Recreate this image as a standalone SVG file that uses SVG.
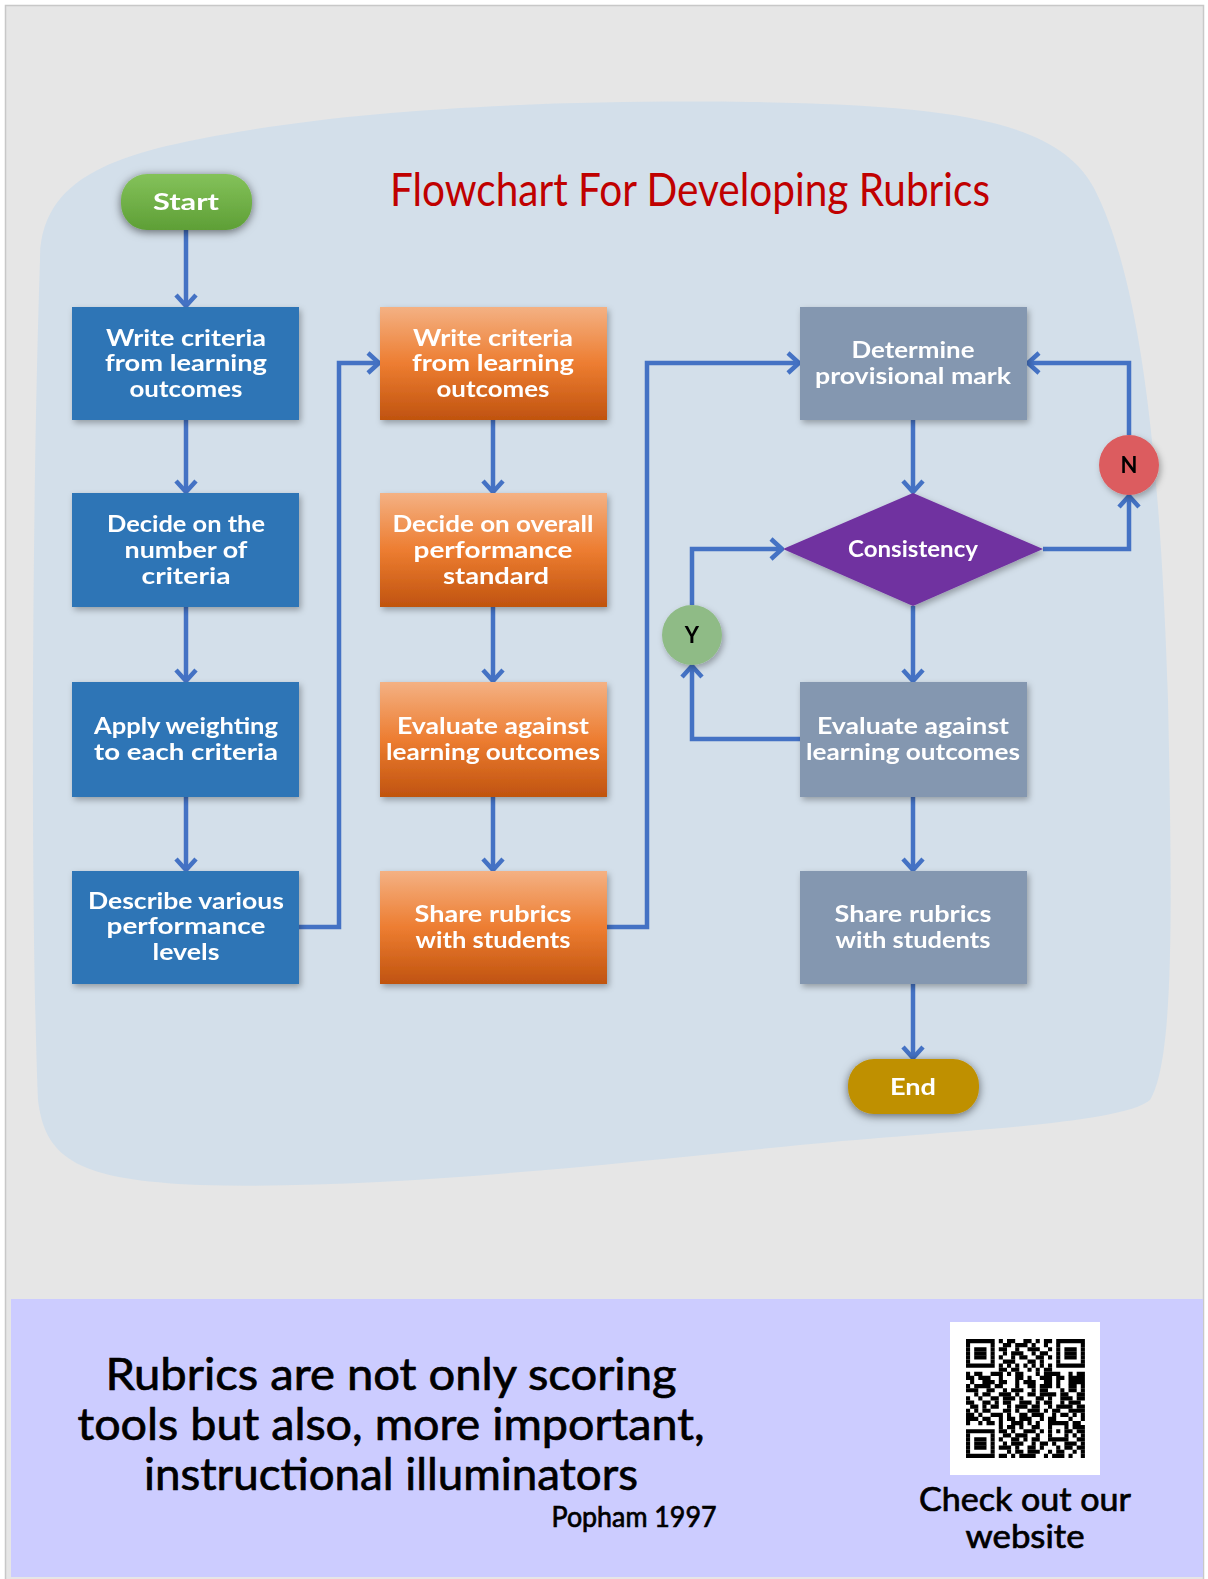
<svg xmlns="http://www.w3.org/2000/svg" width="1208" height="1579" viewBox="0 0 1208 1579">
<style>
.bt{font-family:Lato,"Open Sans","DejaVu Sans",sans-serif;font-weight:700;font-size:23px;fill:#fff;text-anchor:middle}
.conn{fill:none;stroke:#4472c4;stroke-width:4.5}
.blue{fill:#2e75b6}
.gray{fill:#8497b0}
.q{font-family:Lato,"Open Sans",sans-serif;fill:#000;stroke:#000;stroke-width:0.7;text-anchor:middle}
</style>
<defs>
<linearGradient id="og" x1="0" y1="0" x2="0" y2="1">
<stop offset="0" stop-color="#f4b183"/><stop offset="0.5" stop-color="#ed7d31"/><stop offset="1" stop-color="#c0530f"/>
</linearGradient>
<linearGradient id="gg" x1="0" y1="0" x2="0" y2="1">
<stop offset="0" stop-color="#84c25a"/><stop offset="1" stop-color="#5e9f36"/>
</linearGradient>
<filter id="sh" x="-10%" y="-10%" width="125%" height="130%">
<feDropShadow dx="2" dy="3" stdDeviation="3" flood-color="#000" flood-opacity="0.3"/>
</filter>
<filter id="sh2" x="-30%" y="-40%" width="160%" height="190%">
<feDropShadow dx="0" dy="2" stdDeviation="5" flood-color="#000" flood-opacity="0.55"/>
</filter>
<marker id="ah" viewBox="-14 -12 16 24" refX="0" refY="0" markerWidth="16" markerHeight="24" markerUnits="userSpaceOnUse" orient="auto">
<path d="M-11,-10 L0,0 L-11,10" fill="none" stroke="#4472c4" stroke-width="4.5" stroke-linejoin="miter"/>
</marker>
</defs>

<rect x="0" y="0" width="1208" height="1579" fill="#ffffff"/>
<rect x="5.5" y="5.5" width="1198" height="1580" fill="#e6e6e6" stroke="#c8c8c8" stroke-width="1.5"/>

<path id="blob" d="M40,260 C40,170 130,150 250,130 C400,105 600,100 750,102 C950,105 1060,120 1095,190 C1140,280 1160,450 1168,700 C1172,900 1175,1060 1150,1100 C1120,1125 950,1130 800,1145 C600,1165 380,1190 200,1185 C80,1180 45,1160 38,1100 C30,900 32,500 40,260 Z" fill="#d3dfea"/>

<text id="title" x="390" y="206" textLength="600" lengthAdjust="spacingAndGlyphs" font-family="Lato,'Liberation Sans',sans-serif" font-size="46" fill="#c00000">Flowchart For Developing Rubrics</text>

<g id="connectors">
<line class="conn" x1="186" y1="230" x2="186" y2="306" marker-end="url(#ah)"/>
<line class="conn" x1="186" y1="420" x2="186" y2="492" marker-end="url(#ah)"/>
<line class="conn" x1="186" y1="607" x2="186" y2="681" marker-end="url(#ah)"/>
<line class="conn" x1="186" y1="797" x2="186" y2="870" marker-end="url(#ah)"/>
<path class="conn" d="M299,927 H339 V363 H379" marker-end="url(#ah)"/>
<line class="conn" x1="493" y1="420" x2="493" y2="492" marker-end="url(#ah)"/>
<line class="conn" x1="493" y1="607" x2="493" y2="681" marker-end="url(#ah)"/>
<line class="conn" x1="493" y1="797" x2="493" y2="870" marker-end="url(#ah)"/>
<path class="conn" d="M607,927 H647 V363 H799" marker-end="url(#ah)"/>
<line class="conn" x1="913" y1="420" x2="913" y2="492" marker-end="url(#ah)"/>
<line class="conn" x1="913" y1="606" x2="913" y2="681" marker-end="url(#ah)"/>
<line class="conn" x1="913" y1="797" x2="913" y2="870" marker-end="url(#ah)"/>
<line class="conn" x1="913" y1="984" x2="913" y2="1058" marker-end="url(#ah)"/>
<path class="conn" d="M800,739 H692 V666" marker-end="url(#ah)"/>
<path class="conn" d="M692,605 V549 H782" marker-end="url(#ah)"/>
<path class="conn" d="M1043,549 H1129 V496" marker-end="url(#ah)"/>
<path class="conn" d="M1129,435 V363 H1028" marker-end="url(#ah)"/>
</g>

<g id="start" filter="url(#sh2)">
<rect x="121" y="174" width="131" height="56" rx="26" fill="url(#gg)"/>
<text class="bt" x="186" y="210" font-size="27" textLength="66" lengthAdjust="spacingAndGlyphs">Start</text>
</g>

<g id="c1r1" filter="url(#sh)"><rect class="blue" x="72" y="307" width="227" height="113"/>
<text class="bt" x="186" y="346" textLength="160" lengthAdjust="spacingAndGlyphs">Write criteria</text>
<text class="bt" x="186" y="371" textLength="162" lengthAdjust="spacingAndGlyphs">from learning</text>
<text class="bt" x="186" y="397" textLength="113" lengthAdjust="spacingAndGlyphs">outcomes</text></g>

<g id="c1r2" filter="url(#sh)"><rect class="blue" x="72" y="493" width="227" height="114"/>
<text class="bt" x="186" y="532" textLength="158" lengthAdjust="spacingAndGlyphs">Decide on the</text>
<text class="bt" x="186" y="558" textLength="123" lengthAdjust="spacingAndGlyphs">number of</text>
<text class="bt" x="186" y="584" textLength="89" lengthAdjust="spacingAndGlyphs">criteria</text></g>

<g id="c1r3" filter="url(#sh)"><rect class="blue" x="72" y="682" width="227" height="115"/>
<text class="bt" x="186" y="734" textLength="184" lengthAdjust="spacingAndGlyphs">Apply weighting</text>
<text class="bt" x="186" y="760" textLength="184" lengthAdjust="spacingAndGlyphs">to each criteria</text></g>

<g id="c1r4" filter="url(#sh)"><rect class="blue" x="72" y="871" width="227" height="113"/>
<text class="bt" x="186" y="909" textLength="196" lengthAdjust="spacingAndGlyphs">Describe various</text>
<text class="bt" x="186" y="934" textLength="159" lengthAdjust="spacingAndGlyphs">performance</text>
<text class="bt" x="186" y="960" textLength="67" lengthAdjust="spacingAndGlyphs">levels</text></g>

<g id="c2r1" filter="url(#sh)"><rect fill="url(#og)" x="380" y="307" width="227" height="113"/>
<text class="bt" x="493" y="346" textLength="160" lengthAdjust="spacingAndGlyphs">Write criteria</text>
<text class="bt" x="493" y="371" textLength="162" lengthAdjust="spacingAndGlyphs">from learning</text>
<text class="bt" x="493" y="397" textLength="113" lengthAdjust="spacingAndGlyphs">outcomes</text></g>

<g id="c2r2" filter="url(#sh)"><rect fill="url(#og)" x="380" y="493" width="227" height="114"/>
<text class="bt" x="493" y="532" textLength="201" lengthAdjust="spacingAndGlyphs">Decide on overall</text>
<text class="bt" x="493" y="558" textLength="159" lengthAdjust="spacingAndGlyphs">performance</text>
<text class="bt" x="496" y="584" textLength="106" lengthAdjust="spacingAndGlyphs">standard</text></g>

<g id="c2r3" filter="url(#sh)"><rect fill="url(#og)" x="380" y="682" width="227" height="115"/>
<text class="bt" x="493" y="734" textLength="192" lengthAdjust="spacingAndGlyphs">Evaluate against</text>
<text class="bt" x="493" y="760" textLength="214" lengthAdjust="spacingAndGlyphs">learning outcomes</text></g>

<g id="c2r4" filter="url(#sh)"><rect fill="url(#og)" x="380" y="871" width="227" height="113"/>
<text class="bt" x="493" y="922" textLength="157" lengthAdjust="spacingAndGlyphs">Share rubrics</text>
<text class="bt" x="493" y="948" textLength="155" lengthAdjust="spacingAndGlyphs">with students</text></g>

<g id="c3r1" filter="url(#sh)"><rect class="gray" x="800" y="307" width="227" height="113"/>
<text class="bt" x="913" y="358" textLength="123" lengthAdjust="spacingAndGlyphs">Determine</text>
<text class="bt" x="913" y="384" textLength="196" lengthAdjust="spacingAndGlyphs">provisional mark</text></g>

<g id="decision" filter="url(#sh)"><polygon points="913,493 1043,549 913,606 783,549" fill="#7030a0"/>
<text class="bt" x="913" y="557" textLength="130" lengthAdjust="spacingAndGlyphs">Consistency</text></g>

<g id="c3r3" filter="url(#sh)"><rect class="gray" x="800" y="682" width="227" height="115"/>
<text class="bt" x="913" y="734" textLength="192" lengthAdjust="spacingAndGlyphs">Evaluate against</text>
<text class="bt" x="913" y="760" textLength="214" lengthAdjust="spacingAndGlyphs">learning outcomes</text></g>

<g id="c3r4" filter="url(#sh)"><rect class="gray" x="800" y="871" width="227" height="113"/>
<text class="bt" x="913" y="922" textLength="157" lengthAdjust="spacingAndGlyphs">Share rubrics</text>
<text class="bt" x="913" y="948" textLength="155" lengthAdjust="spacingAndGlyphs">with students</text></g>

<g id="nnode" filter="url(#sh)"><circle cx="1129" cy="465" r="30" fill="#dc5b5e"/>
<text x="1129" y="473" font-family="Lato,sans-serif" font-weight="700" font-size="22" text-anchor="middle" fill="#000">N</text></g>

<g id="ynode" filter="url(#sh)"><circle cx="692" cy="635" r="30" fill="#8fbb86"/>
<text x="692" y="643" font-family="Lato,sans-serif" font-weight="700" font-size="22" text-anchor="middle" fill="#000">Y</text></g>

<g id="end" filter="url(#sh2)">
<rect x="848" y="1059" width="131" height="55" rx="26" fill="#bf9000"/>
<text class="bt" x="913" y="1095" font-size="27" textLength="46" lengthAdjust="spacingAndGlyphs">End</text>
</g>

<g id="banner">
<rect x="11" y="1299" width="1192" height="278" fill="#ccccff"/>
<text class="q" x="391" y="1390" font-size="44" textLength="571" lengthAdjust="spacingAndGlyphs">Rubrics are not only scoring</text>
<text class="q" x="391" y="1440" font-size="44" textLength="627" lengthAdjust="spacingAndGlyphs">tools but also, more important,</text>
<text class="q" x="391" y="1490" font-size="44" textLength="494" lengthAdjust="spacingAndGlyphs">instructional illuminators</text>
<text class="q" x="634" y="1527" font-size="28" textLength="165" lengthAdjust="spacingAndGlyphs">Popham 1997</text>
<rect x="950" y="1322" width="150" height="153" fill="#ffffff"/>
<g transform="translate(966,1339) scale(4.1)" fill="none" stroke="#000" stroke-width="1.02">
<path d="M0 0.5h29" stroke-dasharray="7 1 1 1 2 2 2 1 1 1 2 1 7 9"/>
<path d="M0 1.5h29" stroke-dasharray="1 5 1 2 2 1 3 1 1 2 1 2 1 5 1 9"/>
<path d="M0 2.5h29" stroke-dasharray="1 1 3 1 1 1 2 2 1 2 3 2 1 1 1 1 3 1 1 9"/>
<path d="M0 3.5h29" stroke-dasharray="1 1 3 1 1 2 1 1 3 2 1 1 2 2 1 1 3 1 1 9"/>
<path d="M0 4.5h29" stroke-dasharray="1 1 3 1 1 1 1 2 1 1 2 2 2 1 1 1 1 1 3 1 1 9"/>
<path d="M0 5.5h29" stroke-dasharray="1 5 1 2 3 3 2 1 1 3 1 5 1 9"/>
<path d="M0 6.5h29" stroke-dasharray="7 1 1 1 1 1 1 1 1 1 1 1 1 1 1 1 7 9"/>
<path d="M0 7.5h29" stroke-dasharray="0 8 2 1 2 2 1 1 1 1 2 8"/>
<path d="M0 8.5h29" stroke-dasharray="1 1 2 2 3 1 1 1 2 3 1 1 4 2 1 1 2 9"/>
<path d="M0 9.5h29" stroke-dasharray="2 1 3 2 1 3 2 1 1 2 3 1 2 1 4 9"/>
<path d="M0 10.5h29" stroke-dasharray="0 1 1 2 3 1 2 2 1 1 3 2 2 1 1 2 4 9"/>
<path d="M0 11.5h29" stroke-dasharray="1 1 4 1 2 3 1 2 2 1 3 1 1 2 2 1 1 9"/>
<path d="M0 12.5h29" stroke-dasharray="3 2 2 2 1 1 3 2 1 1 2 3 1 1 2 1 1 9"/>
<path d="M0 13.5h29" stroke-dasharray="0 2 1 1 2 2 3 1 1 2 2 1 4 1 2 2 2 9"/>
<path d="M0 14.5h29" stroke-dasharray="1 2 1 2 2 1 3 1 1 3 2 1 1 2 3 1 2 9"/>
<path d="M0 15.5h29" stroke-dasharray="2 2 2 1 1 1 2 2 3 1 1 1 2 2 1 1 3 1"/>
<path d="M0 16.5h29" stroke-dasharray="0 1 2 1 1 1 2 2 1 1 3 1 2 2 1 1 4 1 2 9"/>
<path d="M0 17.5h29" stroke-dasharray="1 1 1 1 2 3 2 1 1 2 3 1 1 1 2 2 4 9"/>
<path d="M0 18.5h29" stroke-dasharray="2 1 1 2 3 1 1 2 2 1 3 2 1 1 2 1 1 1 1 9"/>
<path d="M0 19.5h29" stroke-dasharray="3 1 2 2 1 1 2 1 3 2 1 1 2 3 1 2 1 9"/>
<path d="M0 20.5h29" stroke-dasharray="1 2 1 1 2 1 1 2 3 1 1 1 1 2 5 1 2 1"/>
<path d="M0 21.5h29" stroke-dasharray="0 8 1 1 2 1 1 2 2 2 1 3 1 1 3 9"/>
<path d="M0 22.5h29" stroke-dasharray="7 1 2 1 1 2 3 1 1 1 1 1 1 1 2 1 2 9"/>
<path d="M0 23.5h29" stroke-dasharray="1 5 1 2 2 1 3 2 1 2 1 3 1 1 1 1 1 9"/>
<path d="M0 24.5h29" stroke-dasharray="1 1 3 1 1 1 1 2 2 1 1 1 2 2 5 2 2 9"/>
<path d="M0 25.5h29" stroke-dasharray="1 1 3 1 1 2 1 1 3 2 1 1 2 1 1 2 3 1 1 9"/>
<path d="M0 26.5h29" stroke-dasharray="1 1 3 1 1 1 3 1 1 2 2 1 1 3 1 1 2 1 2 9"/>
<path d="M0 27.5h29" stroke-dasharray="1 5 1 3 1 1 2 1 3 2 1 1 2 2 1 1 1 9"/>
<path d="M0 28.5h29" stroke-dasharray="7 1 2 1 1 1 4 2 1 1 3 1 1 2 1 9"/>
</g>
<text class="q" x="1025" y="1511" font-size="32" textLength="212" lengthAdjust="spacingAndGlyphs">Check out our</text>
<text class="q" x="1025" y="1548" font-size="32" textLength="119" lengthAdjust="spacingAndGlyphs">website</text>
</g>
</svg>
